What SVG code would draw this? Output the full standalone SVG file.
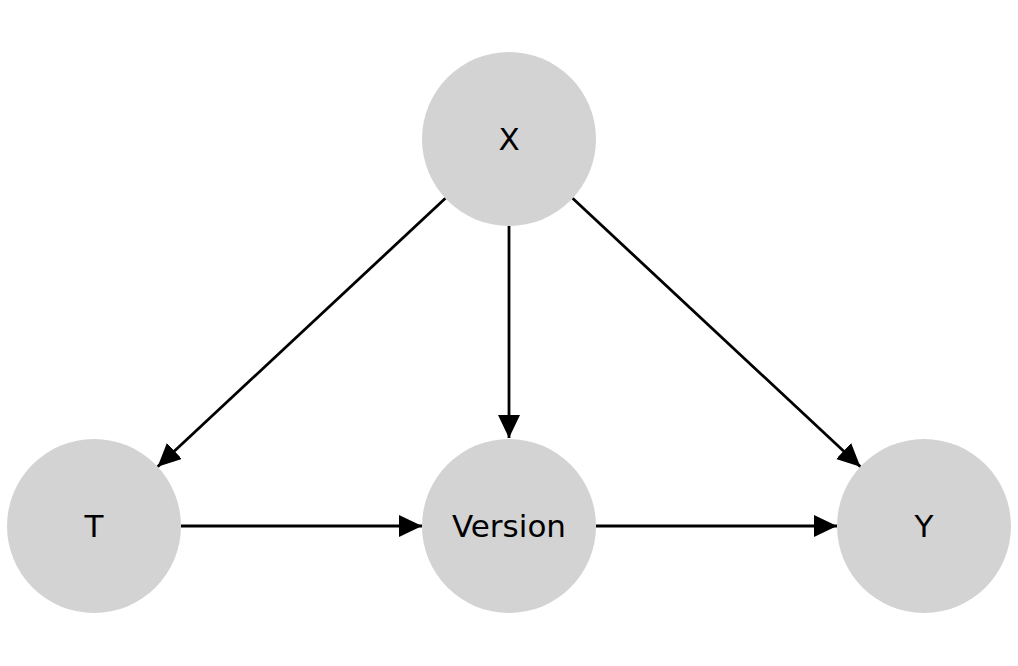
<svg xmlns="http://www.w3.org/2000/svg" width="1018" height="666" viewBox="0 0 1018 666">
<style>
.node circle{fill:#d3d3d3;stroke:none}
.node text{font-family:"DejaVu Sans",sans-serif;font-size:31px;fill:#000;text-anchor:middle;dominant-baseline:central}
.edge{stroke:#000;stroke-width:2.8;fill:none;marker-end:url(#arr)}
</style>
<defs>
<marker id="arr" markerUnits="userSpaceOnUse" markerWidth="24" markerHeight="23" refX="23" refY="11" orient="auto">
<path d="M0,0 L23,11 L0,22 z" fill="#000"/>
</marker>
</defs>
<rect width="1018" height="666" fill="#fff"/>
<g id="connectors">
<line class="edge" x1="445.4" y1="198.3" x2="157.6" y2="466.7"/>
<line class="edge" x1="509" y1="226" x2="509" y2="438"/>
<line class="edge" x1="572.6" y1="198.3" x2="860.4" y2="466.7"/>
<line class="edge" x1="181" y1="526" x2="422" y2="526"/>
<line class="edge" x1="596" y1="526" x2="837" y2="526"/>
</g>
<g id="node-X" class="node"><circle cx="509" cy="139" r="87"/><text x="509" y="139">X</text></g>
<g id="node-T" class="node"><circle cx="94" cy="526" r="87"/><text x="94" y="526">T</text></g>
<g id="node-Version" class="node"><circle cx="509" cy="526" r="87"/><text x="509" y="526">Version</text></g>
<g id="node-Y" class="node"><circle cx="924" cy="526" r="87"/><text x="924" y="526">Y</text></g>
</svg>
